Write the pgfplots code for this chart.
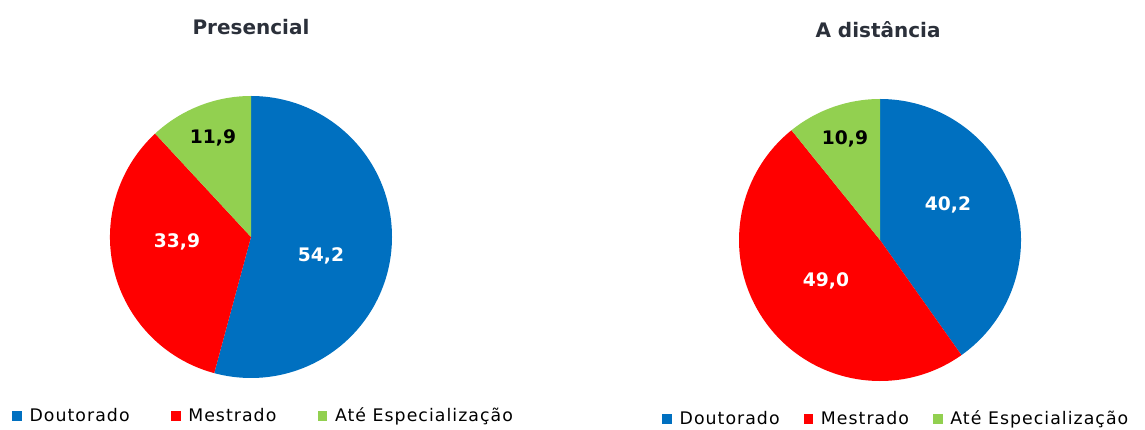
\documentclass[border=0pt]{standalone}
\usepackage{pgfplots}
\pgfplotsset{compat=1.18}
\usepackage{pgfplotstable}
\usepackage{fontspec}
\setmainfont{DejaVu Sans}

\definecolor{cblue}{HTML}{0070C0}
\definecolor{cred}{HTML}{FF0000}
\definecolor{cgreen}{HTML}{92D050}
\definecolor{ctitle}{HTML}{2B303A}

% percentages per modality
\pgfplotstableread{
cat val
Doutorado 54.2
Mestrado 33.9
Especializacao 11.9
}\presencial
\pgfplotstableread{
cat val
Doutorado 40.2
Mestrado 49.0
Especializacao 10.9
}\distancia

\newcommand\R{105.75pt}

\pgfplotsset{
  piebase/.style={
    x=0.75pt, y=0.75pt, y dir=reverse,
    xmin=0, xmax=1145, ymin=0, ymax=428,
    hide axis, clip=false,
    legend columns=3,
    legend image code/.code={\fill[##1] (0pt,-3.3pt) rectangle (6.6pt,3.3pt);},
    legend style={draw=none, fill=none, font=\fontsize{13}{15}\selectfont\addfontfeature{LetterSpace=6},
      inner sep=0pt, nodes={inner xsep=6pt}},
  },
}
\tikzset{
  titlefont/.style={font=\fontsize{15}{18}\selectfont\bfseries, text=ctitle},
  lblfont/.style={font=\fontsize{14}{16}\selectfont\bfseries},
}

\begin{document}
\begin{tikzpicture}
\pgfplotstablegetelem{0}{val}\of\presencial \pgfmathsetmacro\pa{90-3.6*\pgfplotsretval}
\pgfplotstablegetelem{1}{val}\of\presencial \pgfmathsetmacro\pb{\pa-3.6*\pgfplotsretval}
\pgfplotstablegetelem{0}{val}\of\distancia \pgfmathsetmacro\da{90-3.6*\pgfplotsretval}
\pgfplotstablegetelem{1}{val}\of\distancia \pgfmathsetmacro\db{\da-3.6*\pgfplotsretval}

\begin{axis}[piebase,
  legend style={at={(axis cs:12,416)}, anchor=west},
  /tikz/every even column/.append style={column sep=25pt}]
\path (axis cs:0,0) rectangle (axis cs:1145,428);
\addlegendimage{cblue}\addlegendentry{Doutorado}
\addlegendimage{cred}\addlegendentry{Mestrado}
\addlegendimage{cgreen}\addlegendentry{Até Especialização}
\fill[cblue] (axis cs:251,237) -- ++(90:\R) arc[start angle=90, end angle=\pa, radius=\R] -- cycle;
\fill[cred] (axis cs:251,237) -- ++(\pa:\R) arc[start angle=\pa, end angle=\pb, radius=\R] -- cycle;
\fill[cgreen] (axis cs:251,237) -- ++(\pb:\R) arc[start angle=\pb, end angle=-270, radius=\R] -- cycle;
\node[titlefont] at (axis cs:251,27) {Presencial};
\node[lblfont, text=white] at (axis cs:321,256) {54,2};
\node[lblfont, text=white] at (axis cs:177,242) {33,9};
\node[lblfont, text=black] at (axis cs:213,138) {11,9};
\end{axis}

\begin{axis}[piebase,
  legend style={at={(axis cs:662,419)}, anchor=west},
  /tikz/every even column/.append style={column sep=12pt}]
\addlegendimage{cblue}\addlegendentry{Doutorado}
\addlegendimage{cred}\addlegendentry{Mestrado}
\addlegendimage{cgreen}\addlegendentry{Até Especialização}
\fill[cblue] (axis cs:880,240) -- ++(90:\R) arc[start angle=90, end angle=\da, radius=\R] -- cycle;
\fill[cred] (axis cs:880,240) -- ++(\da:\R) arc[start angle=\da, end angle=\db, radius=\R] -- cycle;
\fill[cgreen] (axis cs:880,240) -- ++(\db:\R) arc[start angle=\db, end angle=-270, radius=\R] -- cycle;
\node[titlefont] at (axis cs:878,30) {A distância};
\node[lblfont, text=white] at (axis cs:948,205) {40,2};
\node[lblfont, text=white] at (axis cs:826,281) {49,0};
\node[lblfont, text=black] at (axis cs:845,139) {10,9};
\end{axis}
\end{tikzpicture}
\end{document}
